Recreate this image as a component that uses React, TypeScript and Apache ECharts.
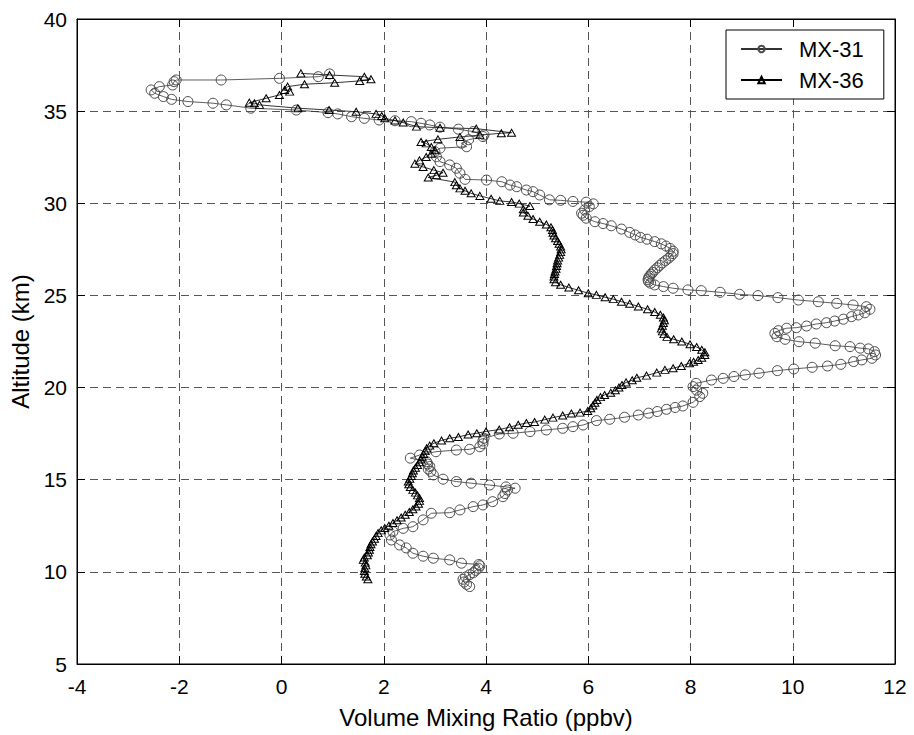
import React, { useEffect, useRef } from "react";
import * as echarts from "echarts";

// [volume mixing ratio (ppbv), altitude (km)]
const mx31: number[][] = [
  [3.68, 9.2], [3.62, 9.32], [3.57, 9.45], [3.55, 9.6], [3.6, 9.72], [3.68, 9.85], [3.75, 9.95], [3.8, 10.08], [3.85, 10.2], [3.88, 10.33], [3.86, 10.4],
  [3.52, 10.47], [3.29, 10.65], [2.97, 10.74], [2.77, 10.85], [2.57, 11.01], [2.44, 11.3], [2.31, 11.46], [2.15, 11.73], [2.12, 12.0], [2.18, 12.18],
  [2.38, 12.36], [2.57, 12.45], [2.77, 12.82], [2.93, 13.18], [3.29, 13.21], [3.49, 13.36], [3.75, 13.54], [3.94, 13.63], [4.13, 13.81], [4.33, 14.08],
  [4.37, 14.25], [4.42, 14.44], [4.57, 14.54], [4.39, 14.61], [4.07, 14.71], [3.71, 14.81], [3.42, 14.9], [3.16, 15.03], [2.97, 15.26], [2.92, 15.45],
  [2.87, 15.58], [2.9, 15.72], [2.86, 15.85], [2.84, 15.98], [2.52, 16.17], [2.7, 16.34], [3.02, 16.52], [3.42, 16.61], [3.68, 16.65], [3.88, 16.79],
  [3.94, 16.95], [3.94, 17.1], [3.96, 17.25], [4.26, 17.48], [4.53, 17.52], [4.86, 17.61], [5.18, 17.7], [5.5, 17.79], [5.7, 17.88], [5.9, 17.97],
  [6.16, 18.21], [6.42, 18.28], [6.71, 18.39], [6.98, 18.51], [7.18, 18.61], [7.35, 18.7], [7.53, 18.82], [7.7, 18.92], [7.85, 19.0], [8.05, 19.2],
  [8.18, 19.51], [8.24, 19.69], [8.12, 19.86], [8.05, 20.05], [8.11, 20.23], [8.41, 20.41], [8.64, 20.5], [8.85, 20.6], [9.07, 20.69], [9.34, 20.78],
  [9.7, 20.92], [10.02, 21.01], [10.38, 21.1], [10.68, 21.17], [10.94, 21.26], [11.19, 21.41], [11.35, 21.5], [11.55, 21.59], [11.62, 21.77], [11.6, 21.95],
  [11.48, 22.1], [11.32, 22.14], [11.12, 22.22], [10.83, 22.27], [10.44, 22.41], [10.12, 22.49], [9.85, 22.62], [9.69, 22.76], [9.65, 22.94], [9.72, 23.09],
  [9.88, 23.22], [10.07, 23.25], [10.27, 23.34], [10.46, 23.45], [10.66, 23.52], [10.82, 23.61], [10.99, 23.71], [11.15, 23.85], [11.28, 23.94], [11.41, 24.06],
  [11.51, 24.25], [11.44, 24.39], [11.18, 24.48], [10.86, 24.57], [10.5, 24.66], [10.11, 24.75], [9.71, 24.88], [9.32, 24.99], [8.96, 25.06], [8.58, 25.17],
  [8.21, 25.26], [7.95, 25.3], [7.66, 25.39], [7.47, 25.48], [7.3, 25.57], [7.22, 25.66], [7.18, 25.75], [7.17, 25.85], [7.18, 25.95], [7.2, 26.05],
  [7.23, 26.15], [7.26, 26.25], [7.3, 26.38], [7.35, 26.5], [7.4, 26.63], [7.45, 26.76], [7.51, 26.89], [7.57, 27.02], [7.62, 27.14], [7.66, 27.27],
  [7.66, 27.4], [7.6, 27.55], [7.52, 27.68], [7.43, 27.8], [7.3, 27.92], [7.15, 28.05], [7.02, 28.15], [6.92, 28.28], [6.81, 28.42], [6.65, 28.6],
  [6.45, 28.78], [6.29, 28.9], [6.13, 29.0], [5.96, 29.19], [5.9, 29.35], [5.87, 29.46], [5.93, 29.64], [6.02, 29.82], [6.1, 29.97], [5.96, 30.06],
  [5.7, 30.1], [5.46, 30.16], [5.24, 30.19], [5.05, 30.45], [4.92, 30.63], [4.79, 30.72], [4.6, 30.9], [4.47, 30.99], [4.31, 31.17], [4.01, 31.26],
  [3.59, 31.3], [3.49, 31.63], [3.42, 31.9], [3.29, 32.08], [3.1, 32.26], [3.03, 32.53], [3.0, 32.8], [3.1, 32.99], [3.62, 33.07], [3.52, 33.26],
  [3.66, 33.45], [3.94, 33.62], [3.96, 33.71], [3.75, 33.89], [3.46, 34.02], [3.1, 34.13], [2.9, 34.25], [2.73, 34.34], [2.54, 34.43], [2.22, 34.48],
  [1.91, 34.52], [1.62, 34.61], [1.37, 34.7], [1.1, 34.85], [0.91, 34.92], [0.29, 35.06], [-0.6, 35.16], [-1.08, 35.34], [-1.34, 35.43], [-1.83, 35.52],
  [-2.15, 35.64], [-2.31, 35.79], [-2.48, 35.97], [-2.55, 36.15], [-2.39, 36.33], [-2.13, 36.42], [-2.1, 36.6], [-2.06, 36.69], [-1.18, 36.69], [-0.04, 36.78],
  [0.72, 36.87], [0.94, 37.02],
];

const mx36: number[][] = [
  [1.69, 9.6], [1.66, 9.75], [1.63, 9.9], [1.62, 10.05], [1.63, 10.2], [1.65, 10.35], [1.64, 10.5], [1.6, 10.65], [1.62, 10.78], [1.68, 10.9],
  [1.7, 11.05], [1.72, 11.2], [1.73, 11.35], [1.75, 11.5], [1.78, 11.65], [1.82, 11.8], [1.85, 11.95], [1.89, 12.1], [1.95, 12.25], [2.02, 12.38],
  [2.1, 12.5], [2.18, 12.65], [2.26, 12.8], [2.34, 12.95], [2.42, 13.1], [2.5, 13.25], [2.57, 13.4], [2.63, 13.55], [2.68, 13.7], [2.7, 13.85],
  [2.7, 14.0], [2.66, 14.15], [2.62, 14.3], [2.57, 14.45], [2.52, 14.6], [2.49, 14.75], [2.48, 14.9], [2.51, 15.05], [2.54, 15.2], [2.56, 15.35],
  [2.58, 15.5], [2.62, 15.65], [2.66, 15.8], [2.7, 15.95], [2.73, 16.1], [2.75, 16.25], [2.78, 16.4], [2.81, 16.55], [2.84, 16.7], [2.9, 16.85],
  [2.98, 16.98], [3.13, 17.13], [3.29, 17.25], [3.46, 17.32], [3.65, 17.45], [3.82, 17.52], [4.0, 17.62], [4.26, 17.72], [4.46, 17.85], [4.63, 17.98],
  [4.79, 18.08], [4.95, 18.13], [5.15, 18.26], [5.31, 18.37], [5.5, 18.48], [5.67, 18.59], [5.84, 18.64], [5.99, 18.73], [6.05, 18.88], [6.09, 19.03],
  [6.13, 19.18], [6.17, 19.33], [6.24, 19.48], [6.32, 19.6], [6.44, 19.72], [6.53, 19.85], [6.6, 20.0], [6.66, 20.14], [6.74, 20.28], [6.86, 20.4],
  [6.95, 20.53], [7.14, 20.65], [7.34, 20.81], [7.5, 20.96], [7.66, 21.05], [7.82, 21.17], [7.98, 21.32], [8.06, 21.4], [8.15, 21.5], [8.22, 21.62],
  [8.28, 21.77], [8.28, 21.92], [8.22, 22.05], [8.12, 22.2], [7.99, 22.35], [7.83, 22.5], [7.67, 22.62], [7.54, 22.75], [7.48, 22.9], [7.45, 23.05],
  [7.43, 23.2], [7.45, 23.35], [7.47, 23.5], [7.49, 23.65], [7.47, 23.8], [7.41, 23.95], [7.3, 24.1], [7.16, 24.25], [6.98, 24.4], [6.81, 24.55],
  [6.65, 24.66], [6.49, 24.8], [6.33, 24.9], [6.16, 25.03], [6.0, 25.12], [5.81, 25.28], [5.62, 25.43], [5.46, 25.58], [5.36, 25.72], [5.33, 25.88],
  [5.33, 26.02], [5.34, 26.16], [5.35, 26.3], [5.37, 26.45], [5.38, 26.6], [5.39, 26.75], [5.4, 26.9], [5.42, 27.05], [5.44, 27.2], [5.46, 27.35],
  [5.47, 27.5], [5.46, 27.65], [5.43, 27.8], [5.4, 27.95], [5.36, 28.1], [5.33, 28.25], [5.31, 28.4], [5.3, 28.55], [5.27, 28.7], [5.18, 28.85],
  [5.05, 29.0], [4.92, 29.15], [4.82, 29.32], [4.73, 29.5], [4.73, 29.68], [4.86, 29.85], [4.65, 29.98], [4.5, 30.07], [4.27, 30.13], [4.1, 30.25],
  [3.88, 30.4], [3.71, 30.54], [3.59, 30.68], [3.49, 30.81], [3.42, 30.98], [3.39, 31.15], [2.87, 31.4], [3.03, 31.52], [3.16, 31.66], [2.98, 31.8],
  [2.77, 31.97], [2.61, 32.15], [2.7, 32.33], [2.83, 32.51], [2.93, 32.69], [3.0, 32.88], [2.93, 33.05], [2.83, 33.25], [2.73, 33.33], [3.06, 33.47],
  [3.49, 33.6], [3.88, 33.7], [4.3, 33.8], [4.5, 33.83], [3.81, 34.05], [3.1, 34.1], [2.64, 34.16], [2.38, 34.38], [2.22, 34.49], [2.02, 34.61],
  [1.96, 34.74], [1.85, 34.85], [1.46, 34.97], [0.93, 35.06], [0.32, 35.16], [-0.43, 35.34], [-0.53, 35.43], [-0.63, 35.46], [-0.3, 35.7], [-0.04, 35.88],
  [0.16, 36.06], [0.06, 36.15], [0.12, 36.33], [0.45, 36.46], [1.04, 36.54], [1.53, 36.64], [1.75, 36.73], [1.62, 36.87], [0.94, 36.96], [0.38, 37.05],
];

const seriesNames = ["MX-31", "MX-36"];
const xTitle = "Volume Mixing Ratio (ppbv)";
const yTitle = "Altitude (km)";
const xRange = { min: -4, max: 12, interval: 2 };
const yRange = { min: 5, max: 40, interval: 5 };

const FONT = "'Liberation Sans', Arial, Helvetica, sans-serif";

export default function App() {
  const ref = useRef<HTMLDivElement>(null);
  useEffect(() => {
    if (!ref.current) return;
    const chart = echarts.init(ref.current, null, { renderer: "svg" });
    const dashed = { show: true, lineStyle: { color: "#555", type: [8, 5] as any, width: 1 } };
    const baseAxis = {
      type: "value" as const,
      axisLine: { show: true, onZero: false, lineStyle: { color: "#000", width: 1 } },
      axisTick: { show: true, inside: true, length: 8, lineStyle: { color: "#000" } },
    };
    chart.setOption({
      animation: false,
      backgroundColor: "#fff",
      textStyle: { fontFamily: FONT },
      grid: { left: 77, top: 19, width: 818, height: 645, show: true, borderColor: "#000", borderWidth: 1, backgroundColor: "#fff" },
      legend: {
        left: 726,
        top: 30,
        orient: "vertical",
        backgroundColor: "#fff",
        borderColor: "#000",
        borderWidth: 1,
        borderRadius: 0,
        padding: [8, 20, 8, 14],
        itemGap: 9,
        itemWidth: 41,
        itemHeight: 8,
        textStyle: { fontFamily: FONT, fontSize: 22, color: "#000", padding: [0, 0, 0, 12] },
        data: seriesNames,
      },
      xAxis: [
        {
          ...baseAxis,
          ...xRange,
          position: "bottom",
          name: xTitle,
          nameLocation: "middle",
          nameGap: 41,
          nameTextStyle: { fontFamily: FONT, fontSize: 24, color: "#000" },
          axisLabel: { fontFamily: FONT, fontSize: 21, color: "#000", margin: 12 },
          splitLine: dashed,
        },
        { ...baseAxis, ...xRange, position: "top", axisLabel: { show: false }, splitLine: { show: false } },
      ],
      yAxis: [
        {
          ...baseAxis,
          ...yRange,
          position: "left",
          name: yTitle,
          nameLocation: "middle",
          nameGap: 43,
          nameTextStyle: { fontFamily: FONT, fontSize: 24, color: "#000" },
          axisLabel: { fontFamily: FONT, fontSize: 21, color: "#000", margin: 10 },
          splitLine: dashed,
        },
        { ...baseAxis, ...yRange, position: "right", axisLabel: { show: false }, splitLine: { show: false } },
      ],
      series: [
        {
          name: seriesNames[0],
          type: "line",
          data: mx31,
          symbol: "circle",
          symbolSize: 10,
          showAllSymbol: true,
          lineStyle: { color: "#333", width: 0.8 },
          itemStyle: { color: "rgba(0,0,0,0)", borderColor: "#4a4a4a", borderWidth: 1 },
          emphasis: { disabled: true },
        },
        {
          name: seriesNames[1],
          type: "line",
          data: mx36,
          symbol: "triangle",
          symbolSize: [8, 7],
          showAllSymbol: true,
          lineStyle: { color: "#000", width: 0.8 },
          itemStyle: { color: "rgba(0,0,0,0)", borderColor: "#000", borderWidth: 1 },
          emphasis: { disabled: true },
        },
      ],
    });
    return () => chart.dispose();
  }, []);
  return <div ref={ref} style={{ position: "fixed", left: 0, top: 0, width: 914, height: 735, background: "#fff" }} />;
}
